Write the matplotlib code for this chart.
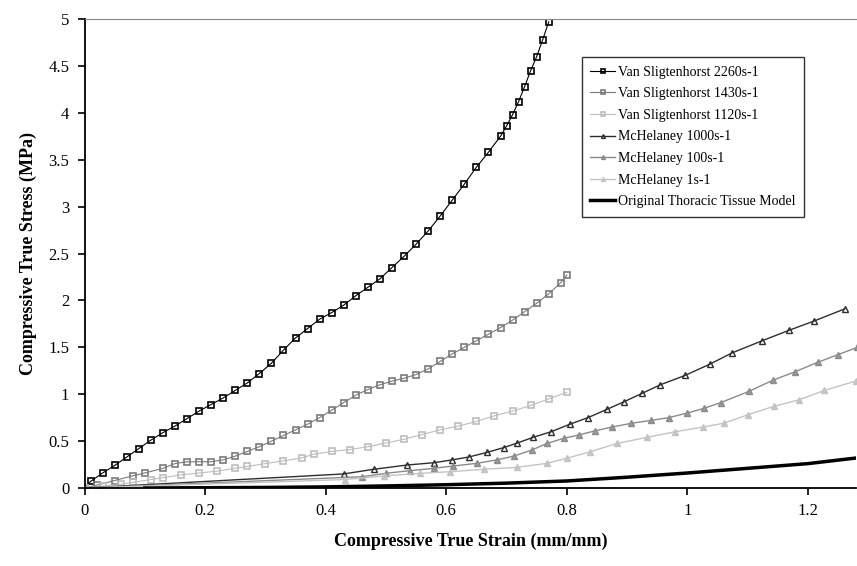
import matplotlib
matplotlib.use('Agg')
import matplotlib.pyplot as plt

# ---- data ----
vs2260_x = [0, 0.01, 0.03, 0.05, 0.07, 0.09, 0.11, 0.13, 0.15, 0.17, 0.19, 0.21, 0.23, 0.25, 0.27,
            0.29, 0.31, 0.33, 0.35, 0.37, 0.39, 0.41, 0.43, 0.45, 0.47, 0.49, 0.51, 0.53, 0.55,
            0.57, 0.59, 0.61, 0.63, 0.65, 0.67, 0.69, 0.70, 0.71, 0.72, 0.73, 0.74, 0.75, 0.76, 0.77]
vs2260_y = [0, 0.07, 0.16, 0.24, 0.33, 0.42, 0.51, 0.59, 0.66, 0.74, 0.82, 0.89, 0.96, 1.04, 1.12,
            1.22, 1.33, 1.47, 1.60, 1.70, 1.80, 1.87, 1.95, 2.05, 2.14, 2.23, 2.35, 2.47, 2.60,
            2.74, 2.90, 3.07, 3.24, 3.42, 3.58, 3.75, 3.86, 3.98, 4.12, 4.28, 4.45, 4.60, 4.78, 4.97]

vs1430_x = [0, 0.02, 0.05, 0.08, 0.10, 0.13, 0.15, 0.17, 0.19, 0.21, 0.23, 0.25, 0.27, 0.29, 0.31,
            0.33, 0.35, 0.37, 0.39, 0.41, 0.43, 0.45, 0.47, 0.49, 0.51, 0.53, 0.55, 0.57, 0.59,
            0.61, 0.63, 0.65, 0.67, 0.69, 0.71, 0.73, 0.75, 0.77, 0.79, 0.80]
vs1430_y = [0, 0.03, 0.08, 0.13, 0.16, 0.21, 0.26, 0.28, 0.28, 0.28, 0.30, 0.34, 0.39, 0.44, 0.50,
            0.56, 0.62, 0.68, 0.75, 0.83, 0.91, 0.99, 1.05, 1.10, 1.14, 1.17, 1.21, 1.27, 1.35,
            1.43, 1.50, 1.57, 1.64, 1.71, 1.79, 1.88, 1.97, 2.07, 2.19, 2.27]

vs1120_x = [0, 0.03, 0.06, 0.08, 0.11, 0.13, 0.16, 0.19, 0.22, 0.25, 0.27, 0.30, 0.33, 0.36, 0.38,
            0.41, 0.44, 0.47, 0.50, 0.53, 0.56, 0.59, 0.62, 0.65, 0.68, 0.71, 0.74, 0.77, 0.80]
vs1120_y = [0, 0.02, 0.04, 0.06, 0.09, 0.11, 0.14, 0.16, 0.18, 0.21, 0.23, 0.26, 0.29, 0.32, 0.36,
            0.39, 0.41, 0.44, 0.48, 0.52, 0.57, 0.62, 0.66, 0.71, 0.77, 0.82, 0.88, 0.95, 1.02]

mc1000_x = [0, 0.43, 0.48, 0.535, 0.58, 0.61, 0.637, 0.668, 0.695, 0.718, 0.744, 0.774, 0.805,
            0.835, 0.867, 0.895, 0.925, 0.955, 0.996, 1.037, 1.074, 1.124, 1.168, 1.21, 1.261]
mc1000_y = [0, 0.15, 0.20, 0.245, 0.27, 0.30, 0.33, 0.38, 0.43, 0.48, 0.54, 0.60, 0.68,
            0.75, 0.84, 0.92, 1.01, 1.10, 1.20, 1.32, 1.44, 1.57, 1.68, 1.78, 1.91]

mc100_x = [0, 0.46, 0.50, 0.54, 0.58, 0.612, 0.651, 0.684, 0.712, 0.742, 0.767, 0.795, 0.82, 0.847,
           0.875, 0.907, 0.939, 0.969, 1.0, 1.028, 1.055, 1.102, 1.142, 1.179, 1.216, 1.249, 1.282]
mc100_y = [0, 0.12, 0.157, 0.185, 0.21, 0.235, 0.263, 0.30, 0.34, 0.405, 0.475, 0.53, 0.565, 0.61,
           0.65, 0.69, 0.72, 0.75, 0.80, 0.85, 0.91, 1.03, 1.15, 1.24, 1.34, 1.42, 1.50]

mc1_x = [0, 0.432, 0.496, 0.557, 0.607, 0.662, 0.717, 0.767, 0.80, 0.839, 0.883, 0.933, 0.98,
         1.026, 1.06, 1.10, 1.143, 1.185, 1.227, 1.279]
mc1_y = [0, 0.09, 0.128, 0.157, 0.174, 0.20, 0.22, 0.263, 0.317, 0.387, 0.475, 0.54, 0.60,
         0.65, 0.69, 0.78, 0.87, 0.94, 1.04, 1.14]

tissue_x = [0.1, 0.2, 0.3, 0.4, 0.5, 0.6, 0.7, 0.8, 0.9, 1.0, 1.1, 1.2, 1.28]
tissue_y = [0, 0.003, 0.006, 0.012, 0.022, 0.035, 0.052, 0.075, 0.115, 0.16, 0.21, 0.26, 0.32]

plt.rcParams['font.family'] = ['Liberation Serif', 'DejaVu Serif']

fig = plt.figure(figsize=(8.57, 5.66), dpi=100)
ax = fig.add_axes([0.0986, 0.1378, 0.9005, 0.8286])

ax.plot(vs2260_x, vs2260_y, '-s', color='black', lw=0.8, ms=3.8, mfc='none', mew=1.2,
        label='Van Sligtenhorst 2260s-1')
ax.plot(vs1430_x, vs1430_y, '-s', color='#7a7a7a', lw=0.8, ms=3.8, mfc='none', mew=1.2,
        label='Van Sligtenhorst 1430s-1')
ax.plot(vs1120_x, vs1120_y, '-s', color='#bdbdbd', lw=0.8, ms=3.8, mfc='none', mew=1.2,
        label='Van Sligtenhorst 1120s-1')
ax.plot(mc1000_x, mc1000_y, '-^', color='#2e2e2e', lw=1.0, ms=4, mfc='none', mew=1.0,
        label='McHelaney 1000s-1')
ax.plot(mc100_x, mc100_y, '-^', color='#8a8a8a', lw=1.0, ms=4, mfc='#9a9a9a', mew=1.0,
        label='McHelaney 100s-1')
ax.plot(mc1_x, mc1_y, '-^', color='#c4c4c4', lw=1.0, ms=4, mfc='#c4c4c4', mew=1.0,
        label='McHelaney 1s-1')
ax.plot(tissue_x, tissue_y, '-', color='black', lw=2.5,
        label='Original Thoracic Tissue Model')

ax.set_xlim(0, 1.28)
ax.set_ylim(0, 5)
ax.set_xticks([0, 0.2, 0.4, 0.6, 0.8, 1, 1.2])
ax.set_xticklabels(['0', '0.2', '0.4', '0.6', '0.8', '1', '1.2'])
ax.set_yticks([0, 0.5, 1, 1.5, 2, 2.5, 3, 3.5, 4, 4.5, 5])
ax.set_yticklabels(['0', '0.5', '1', '1.5', '2', '2.5', '3', '3.5', '4', '4.5', '5'])
ax.tick_params(direction='out', length=5, width=1.2, labelsize=12, pad=6)
ax.spines['right'].set_visible(False)
ax.spines['top'].set_color('#888888')
ax.spines['left'].set_linewidth(1.3)
ax.spines['bottom'].set_linewidth(1.3)

ax.set_xlabel('Compressive True Strain (mm/mm)', fontsize=13, fontweight='bold', labelpad=10)
ax.set_ylabel('Compressive True Stress (MPa)', fontsize=13, fontweight='bold', labelpad=8)

leg = ax.legend(loc='upper left', bbox_to_anchor=(0.671, 0.911), bbox_transform=fig.transFigure,
                fontsize=10, frameon=True, fancybox=False, edgecolor='black',
                handlelength=1.8, handletextpad=0.2, labelspacing=0.62, borderpad=0.6,
                markerscale=0.7)
leg.get_frame().set_linewidth(1.0)

fig.savefig('out.png', dpi=100)
